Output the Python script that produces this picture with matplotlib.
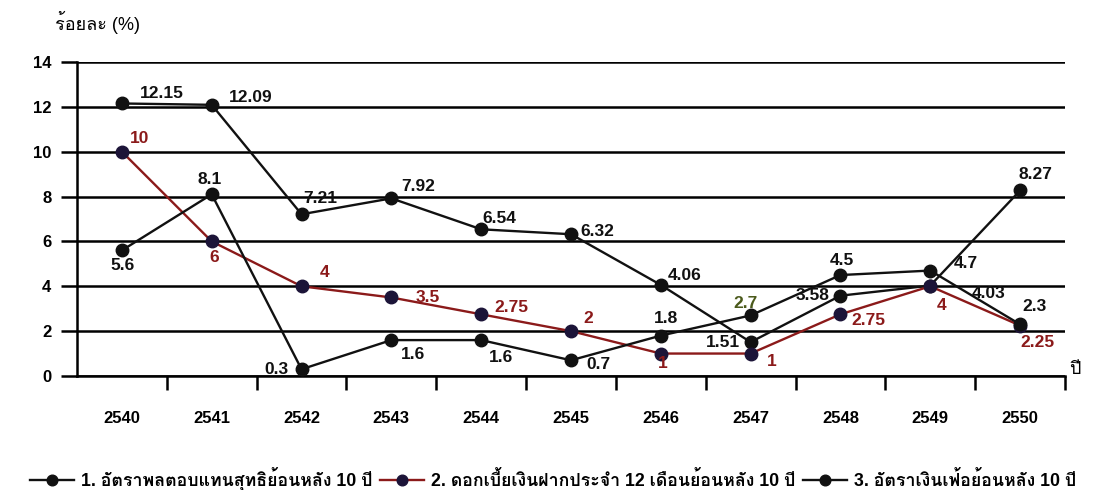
import matplotlib
matplotlib.use("Agg")
import matplotlib.pyplot as plt
from matplotlib import font_manager as fm
from matplotlib.ft2font import FT2Font

# Data
years = ["2540", "2541", "2542", "2543", "2544", "2545", "2546", "2547", "2548", "2549", "2550"]
net_return = [12.15, 12.09, 7.21, 7.92, 6.54, 6.32, 4.06, 1.51, 3.58, 4.03, 8.27]
deposit_rate = [10, 6, 4, 3.5, 2.75, 2, 1, 1, 2.75, 4, 2.25]
inflation = [5.6, 8.1, 0.3, 1.6, 1.6, 0.7, 1.8, 2.7, 4.5, 4.7, 2.3]

legend_labels = ["1. อัตราพลตอบแทนสุทธิย้อนหลัง 10 ปี",
                 "2. ดอกเบี้ยเงินฝากประจำ 12 เดือนย้อนหลัง 10 ปี",
                 "3. อัตราเงินเฟ้อย้อนหลัง 10 ปี"]

# label offsets in pixels (dx, dy, ha)
ret_off = [(18, 10, "left"), (17, 7, "left"), (2, 16, "left"), (10, 12, "left"), (1, 11, "left"),
           (9, 3, "left"), (7, 9, "left"), (-11, 0, "right"), (-11, 0, "right"), (41, -8, "left"),
           (-2, 16, "left")]
dep_off = [(18, 13, "center"), (2, -16, "center"), (23, 14, "center"), (24, 0, "left"), (13, 7, "left"),
           (17, 13, "center"), (2, -10, "center"), (21, -8, "center"), (11, -6, "left"), (11, -19, "center"),
           (17, -17, "center")]
inf_off = [(1, -15, "center"), (-2, 15, "center"), (-13, 0, "right"), (10, -14, "left"), (8, -17, "left"),
           (15, -4, "left"), (5, 17, "center"), (-5, 12, "center"), (1, 15, "center"), (23, 7, "left"),
           (14, 18, "center")]


def thai_font():
    for f in fm.fontManager.ttflist:
        try:
            if FT2Font(f.fname).get_char_index(0x0E01):
                return f.name
        except Exception:
            pass
    return "DejaVu Sans"


thai = thai_font()
plt.rcParams["font.family"] = ["Liberation Sans", thai, "DejaVu Sans"]

RED = "#8b1a1a"
BLACK = "#111111"
NAVY = "#1c1438"

fig = plt.figure(figsize=(10.95, 4.9), dpi=100)
ax = fig.add_axes([0.0703, 0.2327, 0.9023, 0.6408])

x = list(range(len(years)))
l1, = ax.plot(x, net_return, color=BLACK, lw=1.7, marker="o", ms=9, mfc=BLACK, mec=BLACK, clip_on=False, zorder=3)
l2, = ax.plot(x, deposit_rate, color=RED, lw=1.7, marker="o", ms=9, mfc=NAVY, mec=NAVY, clip_on=False, zorder=3)
l3, = ax.plot(x, inflation, color=BLACK, lw=1.7, marker="o", ms=9, mfc=BLACK, mec=BLACK, clip_on=False, zorder=3)


def put_labels(vals, offs, color):
    for i, (v, (dx, dy, ha)) in enumerate(zip(vals, offs)):
        c = color
        if color == "inf" and i == 7:
            c = "#4b5a1c"
        elif color == "inf":
            c = BLACK
        ax.annotate(f"{v:g}", (i, v), xytext=(dx, dy), textcoords="offset pixels",
                    ha=ha, va="center", fontsize=12.5, fontweight="bold", color=c, zorder=4)


put_labels(net_return, ret_off, BLACK)
put_labels(deposit_rate, dep_off, RED)
put_labels(inflation, inf_off, "inf")

ax.set_xlim(-0.5, 10.5)
ax.set_ylim(0, 14)
ax.set_yticks(range(0, 15, 2))
ax.yaxis.grid(True, color="black", lw=1.8)
ax.set_axisbelow(True)
ax.tick_params(axis="y", length=11.5, width=1.8, labelsize=12, pad=7)
for lab in ax.get_yticklabels():
    lab.set_fontweight("bold")

ax.set_xticks(x)
ax.set_xticklabels(years, fontweight="bold", fontsize=12)
ax.set_xticks([i + 0.5 for i in x], minor=True)
ax.tick_params(axis="x", which="major", length=0, pad=25)
ax.tick_params(axis="x", which="minor", length=10, width=1.8, direction="out")

for s in ["top", "right"]:
    ax.spines[s].set_visible(False)
ax.spines["left"].set_linewidth(1.8)
ax.spines["bottom"].set_linewidth(1.8)

fig.text(0.05, 0.955, "ร้อยละ (%)", fontsize=13, va="center", ha="left")
fig.text(0.976, 0.245, "ปี", fontsize=13, va="center", ha="left")

fig.legend([l1, l2, l3], legend_labels, loc="center", bbox_to_anchor=(0.505, 0.022), ncol=3,
           frameon=False, handlelength=2.5, handletextpad=0.4, columnspacing=0.4, markerscale=0.85,
           prop={"size": 12.8, "weight": "bold"})

fig.savefig("out.png", dpi=100)
